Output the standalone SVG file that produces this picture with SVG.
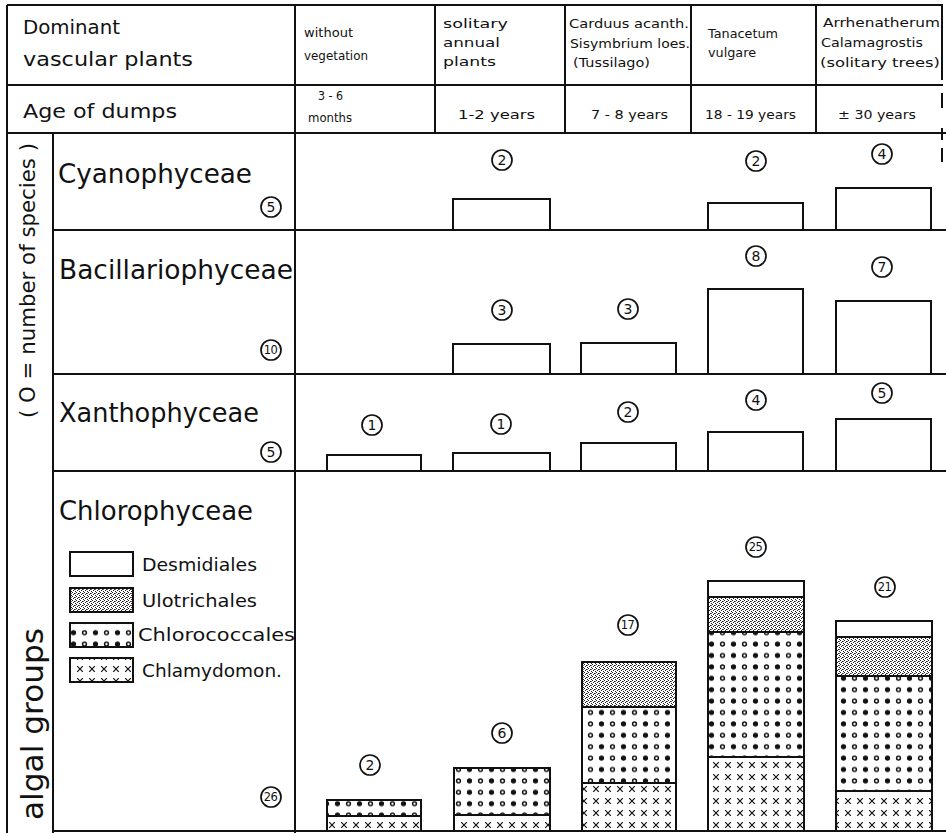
<svg xmlns="http://www.w3.org/2000/svg" width="946" height="833" viewBox="0 0 946 833">
<style>
text{font-family:"DejaVu Sans","Liberation Sans",sans-serif;fill:#111}
.ln{stroke:#111;stroke-width:2;fill:none}
.bar{stroke:#111;stroke-width:2}
.hd{font-size:13px}
.age{font-size:13px}
.big{font-size:19px}
.sec{font-size:27px}
.leg{font-size:18px}
.cl circle{fill:#fff;stroke:#111;stroke-width:1.7}
.cl text{font-size:14px;text-anchor:middle}
.cl2 text{font-size:11.5px;letter-spacing:-0.6px}
</style>
<defs>
<pattern id="stip" width="4" height="4" patternUnits="userSpaceOnUse">
<rect width="4" height="4" fill="#fff"/>
<rect x="0" y="0" width="1" height="1" fill="#222"/>
<rect x="2" y="1" width="1" height="1" fill="#222"/>
<rect x="1" y="2" width="1" height="1" fill="#222"/>
<rect x="3" y="3" width="1" height="1" fill="#222"/>
<rect x="3" y="1" width="1" height="1" fill="#666"/>
</pattern>
<pattern id="dots" width="22" height="11.4" patternUnits="userSpaceOnUse" x="2">
<rect width="22" height="11.4" fill="#fff"/>
<circle cx="5.5" cy="5.7" r="2.6" fill="#111"/>
<circle cx="16.5" cy="5.7" r="1.9" fill="#fff" stroke="#111" stroke-width="1.5"/>
</pattern>
<pattern id="cross" width="12" height="12" patternUnits="userSpaceOnUse" x="2" y="3">
<rect width="12" height="12" fill="#fff"/>
<path d="M3.2,3.2 l5.6,5.6 M8.8,3.2 l-5.6,5.6" stroke="#111" stroke-width="1.2"/>
</pattern>
</defs>

<g id="frame">
<path class="ln" d="M7,5 H943 M7,5 V833 M7,85 H943 M7,133 H946 M53,133 V833 M295,5 V833 M435,5 V133 M565,5 V133 M691,5 V133 M816,5 V133 M53,230 H946 M53,374 H946 M53,471 H946 M53,831 H946"/>
<path class="ln" d="M942,5 V80 M942,93 V108 M942,128 V140 M942,148 V162"/>
</g>

<g id="header">
<text class="big" x="23" y="34" textLength="97" lengthAdjust="spacingAndGlyphs">Dominant</text>
<text class="big" x="23" y="66" textLength="170" lengthAdjust="spacingAndGlyphs">vascular plants</text>
<text class="big" x="23" y="118" textLength="154" lengthAdjust="spacingAndGlyphs">Age of dumps</text>
<text class="hd" x="304" y="37" textLength="49" lengthAdjust="spacingAndGlyphs">without</text>
<text class="hd" x="304" y="60" textLength="64" lengthAdjust="spacingAndGlyphs">vegetation</text>
<text class="hd" x="443" y="28" textLength="65" lengthAdjust="spacingAndGlyphs">solitary</text>
<text class="hd" x="443" y="47" textLength="57" lengthAdjust="spacingAndGlyphs">annual</text>
<text class="hd" x="443" y="66" textLength="53" lengthAdjust="spacingAndGlyphs">plants</text>
<text class="hd" x="569" y="28" textLength="120" lengthAdjust="spacingAndGlyphs">Carduus acanth.</text>
<text class="hd" x="570" y="48" textLength="120" lengthAdjust="spacingAndGlyphs">Sisymbrium loes.</text>
<text class="hd" x="573" y="67" textLength="77" lengthAdjust="spacingAndGlyphs">(Tussilago)</text>
<text class="hd" x="708" y="38" textLength="70" lengthAdjust="spacingAndGlyphs">Tanacetum</text>
<text class="hd" x="708" y="57" textLength="48" lengthAdjust="spacingAndGlyphs">vulgare</text>
<text class="hd" x="823" y="27" textLength="117" lengthAdjust="spacingAndGlyphs">Arrhenatherum</text>
<text class="hd" x="821" y="47" textLength="102" lengthAdjust="spacingAndGlyphs">Calamagrostis</text>
<text class="hd" x="820" y="67" textLength="120" lengthAdjust="spacingAndGlyphs">(solitary trees)</text>
<text class="age" x="318" y="100" textLength="25" lengthAdjust="spacingAndGlyphs">3 - 6</text>
<text class="age" x="308" y="122" textLength="44" lengthAdjust="spacingAndGlyphs">months</text>
<text class="age" x="458" y="119" textLength="77" lengthAdjust="spacingAndGlyphs">1-2 years</text>
<text class="age" x="591" y="119" textLength="77" lengthAdjust="spacingAndGlyphs">7 - 8 years</text>
<text class="age" x="705" y="119" textLength="91" lengthAdjust="spacingAndGlyphs">18 - 19 years</text>
<text class="age" x="838" y="119" textLength="78" lengthAdjust="spacingAndGlyphs">± 30 years</text>
</g>

<g id="axis-label">
<text style="font-size:30px" transform="translate(43,820) rotate(-90)" textLength="192" lengthAdjust="spacingAndGlyphs">algal groups</text>
<text style="font-size:22px" transform="translate(35,418) rotate(-90)" textLength="275" lengthAdjust="spacingAndGlyphs">( O = number of species )</text>
</g>

<g id="cyanophyceae">
<text class="sec" x="58" y="183" textLength="194" lengthAdjust="spacingAndGlyphs">Cyanophyceae</text>
<g class="cl"><circle cx="271" cy="207" r="10"/><text x="271" y="212">5</text></g>
<rect class="bar" x="453" y="199" width="97" height="31" fill="#fff"/>
<rect class="bar" x="708" y="203" width="95" height="27" fill="#fff"/>
<rect class="bar" x="836" y="188" width="95" height="42" fill="#fff"/>
<g class="cl"><circle cx="502" cy="160" r="10"/><text x="502" y="165">2</text></g>
<g class="cl"><circle cx="756" cy="161" r="10"/><text x="756" y="166">2</text></g>
<g class="cl"><circle cx="882" cy="154" r="10"/><text x="882" y="159">4</text></g>
</g>

<g id="bacillariophyceae">
<text class="sec" x="59" y="279" textLength="234" lengthAdjust="spacingAndGlyphs">Bacillariophyceae</text>
<g class="cl cl2"><circle cx="271" cy="350" r="10"/><text x="270.5" y="354">10</text></g>
<rect class="bar" x="453" y="344" width="97" height="30" fill="#fff"/>
<rect class="bar" x="581" y="343" width="95" height="31" fill="#fff"/>
<rect class="bar" x="708" y="289" width="95" height="85" fill="#fff"/>
<rect class="bar" x="836" y="301" width="95" height="73" fill="#fff"/>
<g class="cl"><circle cx="502" cy="310" r="10"/><text x="502" y="315">3</text></g>
<g class="cl"><circle cx="628" cy="309" r="10"/><text x="628" y="314">3</text></g>
<g class="cl"><circle cx="756" cy="256" r="10"/><text x="756" y="261">8</text></g>
<g class="cl"><circle cx="882" cy="267" r="10"/><text x="882" y="272">7</text></g>
</g>

<g id="xanthophyceae">
<text class="sec" x="59" y="422" textLength="200" lengthAdjust="spacingAndGlyphs">Xanthophyceae</text>
<g class="cl"><circle cx="271" cy="452" r="10"/><text x="271" y="457">5</text></g>
<rect class="bar" x="327" y="455" width="94" height="16" fill="#fff"/>
<rect class="bar" x="453" y="453" width="97" height="18" fill="#fff"/>
<rect class="bar" x="581" y="443" width="95" height="28" fill="#fff"/>
<rect class="bar" x="708" y="432" width="95" height="39" fill="#fff"/>
<rect class="bar" x="836" y="419" width="95" height="52" fill="#fff"/>
<g class="cl"><circle cx="372" cy="425" r="10"/><text x="372" y="430">1</text></g>
<g class="cl"><circle cx="501" cy="424" r="10"/><text x="501" y="429">1</text></g>
<g class="cl"><circle cx="628" cy="412" r="10"/><text x="628" y="417">2</text></g>
<g class="cl"><circle cx="756" cy="400" r="10"/><text x="756" y="405">4</text></g>
<g class="cl"><circle cx="882" cy="393" r="10"/><text x="882" y="398">5</text></g>
</g>

<g id="chlorophyceae">
<text class="sec" x="59" y="520" textLength="194" lengthAdjust="spacingAndGlyphs">Chlorophyceae</text>
<g class="cl cl2"><circle cx="271" cy="797" r="10"/><text x="270.5" y="801">26</text></g>
<g id="legend">
<rect class="bar" x="70" y="552" width="63" height="24" fill="#fff"/>
<text class="leg" x="142" y="571" textLength="115" lengthAdjust="spacingAndGlyphs">Desmidiales</text>
<rect class="bar" x="70" y="588" width="63" height="24" fill="url(#stip)"/>
<text class="leg" x="142" y="607" textLength="115" lengthAdjust="spacingAndGlyphs">Ulotrichales</text>
<rect class="bar" x="70" y="623" width="63" height="24" fill="url(#dots)"/>
<text class="leg" x="138" y="641" textLength="157" lengthAdjust="spacingAndGlyphs">Chlorococcales</text>
<rect class="bar" x="70" y="658" width="63" height="24" fill="url(#cross)"/>
<text class="leg" x="142" y="677" textLength="140" lengthAdjust="spacingAndGlyphs">Chlamydomon.</text>
</g>
<g id="bar-c1">
<rect class="bar" x="327" y="800" width="94" height="16" fill="url(#dots)"/>
<rect class="bar" x="327" y="816" width="94" height="15" fill="url(#cross)"/>
</g>
<g id="bar-c2">
<rect class="bar" x="454" y="768" width="96" height="47" fill="url(#dots)"/>
<rect class="bar" x="454" y="815" width="96" height="16" fill="url(#cross)"/>
</g>
<g id="bar-c3">
<rect class="bar" x="582" y="662" width="94" height="45" fill="url(#stip)"/>
<rect class="bar" x="582" y="707" width="94" height="76" fill="url(#dots)"/>
<rect class="bar" x="582" y="783" width="94" height="48" fill="url(#cross)"/>
</g>
<g id="bar-c4">
<rect class="bar" x="708" y="581" width="96" height="16" fill="#fff"/>
<rect class="bar" x="708" y="597" width="96" height="35" fill="url(#stip)"/>
<rect class="bar" x="708" y="632" width="96" height="125" fill="url(#dots)"/>
<rect class="bar" x="708" y="757" width="96" height="74" fill="url(#cross)"/>
</g>
<g id="bar-c5">
<rect class="bar" x="836" y="621" width="96" height="16" fill="#fff"/>
<rect class="bar" x="836" y="637" width="96" height="39" fill="url(#stip)"/>
<rect class="bar" x="836" y="676" width="96" height="115" fill="url(#dots)"/>
<rect class="bar" x="836" y="791" width="96" height="40" fill="url(#cross)"/>
</g>
<g class="cl"><circle cx="370" cy="765" r="10"/><text x="370" y="770">2</text></g>
<g class="cl"><circle cx="502" cy="733" r="10"/><text x="502" y="738">6</text></g>
<g class="cl cl2"><circle cx="628" cy="625" r="10"/><text x="627.5" y="629">17</text></g>
<g class="cl cl2"><circle cx="756" cy="547" r="10"/><text x="755.5" y="551">25</text></g>
<g class="cl cl2"><circle cx="885" cy="587" r="10"/><text x="884.5" y="591">21</text></g>
</g>
</svg>
